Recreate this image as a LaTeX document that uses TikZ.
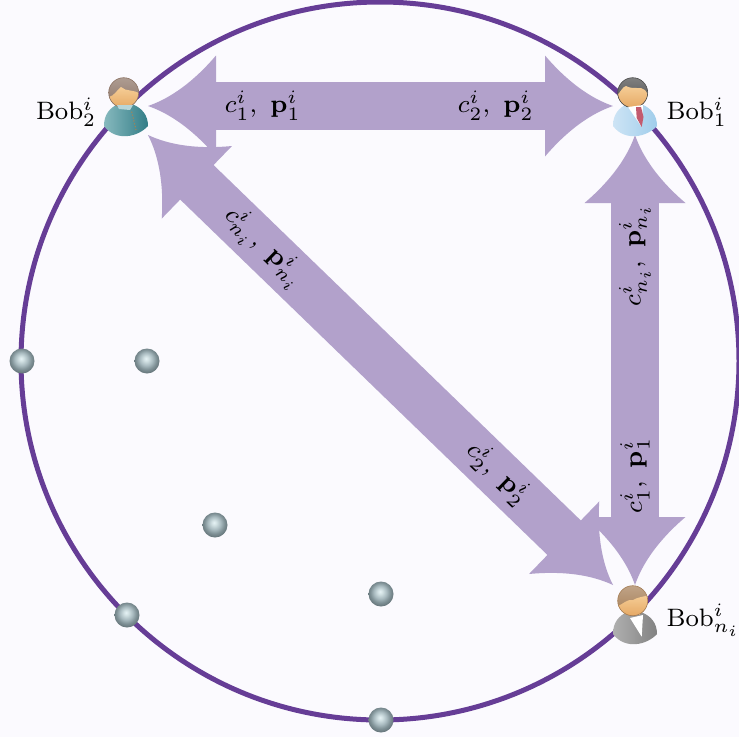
\documentclass[tikz,border=0pt]{standalone}
\usepackage{amsmath,amssymb}
\usepackage{tikz}
\usetikzlibrary{arrows.meta, positioning}

\definecolor{paper}{RGB}{251,250,254}
\definecolor{ringpurple}{RGB}{102,61,150}
\definecolor{flowpurple}{RGB}{178,161,203}
\definecolor{hairdark}{RGB}{75,75,75}
\definecolor{hairbrown}{RGB}{140,115,100}
\definecolor{hairtan}{RGB}{165,125,85}
\definecolor{shirtlight}{RGB}{205,228,245}
\definecolor{shirtblue}{RGB}{160,205,235}
\definecolor{teallight}{RGB}{135,185,190}
\definecolor{tealdark}{RGB}{50,125,135}
\definecolor{coatlight}{RGB}{175,175,175}
\definecolor{coatdark}{RGB}{130,130,130}
\definecolor{skintop}{RGB}{245,205,150}
\definecolor{skinlow}{RGB}{228,165,95}
\definecolor{tiered}{RGB}{195,90,110}

% wide head with hollow flanks
\pgfdeclarearrow{
    name=Flare,
    setup code={
        \pgfarrowssettipend{0pt}
        \pgfarrowssetbackend{-68pt}
        \pgfarrowssetlineend{-60pt}
        \pgfarrowssetvisualbackend{-60pt}
        \pgfarrowshullpoint{0pt}{0pt}
        \pgfarrowshullpoint{-68pt}{50.5pt}
        \pgfarrowshullpoint{-68pt}{-50.5pt}
    },
    drawing code={
        \pgfpathmoveto{\pgfpoint{0pt}{0pt}}
        \pgfpathcurveto{\pgfpoint{-23pt}{7.9pt}}{\pgfpoint{-46pt}{24.7pt}}{\pgfpoint{-68pt}{50.5pt}}
        \pgfpathlineto{\pgfpoint{-68pt}{-50.5pt}}
        \pgfpathcurveto{\pgfpoint{-46pt}{-24.7pt}}{\pgfpoint{-23pt}{-7.9pt}}{\pgfpoint{0pt}{0pt}}
        \pgfpathclose
        \pgfusepathqfill
    }
}

\pgfdeclareradialshading{pearl}{\pgfpoint{-2bp}{5bp}}{
    rgb(0bp)=(.90,.95,.96);
    rgb(5bp)=(.82,.88,.89);
    rgb(13bp)=(.66,.73,.75);
    rgb(20bp)=(.50,.57,.59);
    rgb(29bp)=(.36,.42,.44);
    rgb(50bp)=(.36,.42,.44)
}

\tikzset{
    flow/.style={draw=flowpurple, line width=48pt, {Flare}-{Flare}},
    bob/.style={minimum width=44pt, minimum height=58pt, inner sep=0pt, outer sep=0pt},
    bobname/.style={scale=3.15, inner sep=0pt, font=\footnotesize, yshift=-2pt},
    flowlabel/.style={scale=3.15, sloped, inner sep=0pt, font=\footnotesize},
    pearlball/.style={circle, minimum size=25pt, inner sep=0pt, shading=pearl},
    pics/man/.style n args={4}{code={
        % body
        \shade[left color=#3, right color=#4]
            (-22,20) .. controls (-22,8) and (-16,2) .. (-8,-2) -- (6,-2)
            .. controls (16,2) and (22,9) .. (22,20)
            .. controls (12,31) and (-10,36) .. (-22,20) -- cycle;
        % neck
        \fill[skintop] (-9,-6) rectangle (5,1);
        % head
        \begin{scope}
            \clip (-2.3,-13.3) circle[radius=15];
            \shade[top color=#2!70!white, bottom color=#2] (-18,-29) rectangle (13,2);
            \shade[top color=skintop, bottom color=skinlow] #1;
        \end{scope}
        \draw[#2, line width=0.6pt] (-2.3,-13.3) circle[radius=15];
    }}
}

\begin{document}
\begin{tikzpicture}[x=1pt, y=-1pt]

    \path[use as bounding box, fill=paper] (0,0) rectangle (739,737);

    % the ring
    \draw[ringpurple, line width=5pt] (380,361) circle[radius=359];

    % the three users
    \node[bob] (bobone) at (635,106) {};
    \node[bob] (bobtwo) at (126,106) {};
    \node[bob] (bobn) at (635,614) {};

    \node[bobname, right=9pt of bobone] (nameone) {$\mathrm{Bob}_1^i$};
    \node[bobname, left=7pt of bobtwo] (nametwo) {$\mathrm{Bob}_2^i$};
    \node[bobname, right=9pt of bobn] (namen) {$\mathrm{Bob}_{n_i}^i$};

    % exchanges
    \draw[flow] (bobtwo.east) --
        node[flowlabel, pos=.247] (labtwoone) {$c_1^i,\ \mathbf{p}_1^i$}
        node[flowlabel, pos=.748] (labtwotwo) {$c_2^i,\ \mathbf{p}_2^i$}
        (bobone.west);
    \draw[flow] (bobn.north) --
        node[flowlabel, pos=.243] (labnone) {$c_1^i,\ \mathbf{p}_1^i$}
        node[flowlabel, pos=.733] (labnn) {$c_{n_i}^i,\ \mathbf{p}_{n_i}^i$}
        (bobone.south);
    \draw[flow] (bobtwo.south east) --
        node[flowlabel, pos=.25] (labdiagn) {$c_{n_i}^i,\ \mathbf{p}_{n_i}^i$}
        node[flowlabel, pos=.752] (labdiagtwo) {$c_2^i,\ \mathbf{p}_2^i$}
        (bobn.north west);

    % Bob 1
    \pic at (bobone) {man={(-18,-11) .. controls (-14,-14) and (-13,-19) .. (-9,-20)
        .. controls (-2,-16) and (6,-20) .. (10,-16) .. controls (11,-14) and (13,-12) .. (14,-9)
        -- (14,4) -- (-18,4) -- cycle}{hairdark}{shirtlight}{shirtblue}};
    \fill[white] (628,107) -- (643,105) -- (641.7,127) -- cycle;
    \fill[tiered] (636,107) -- (641,107) -- (643.5,117) -- (641.7,127) -- (636.7,118) -- cycle;

    % Bob 2
    \pic at (bobtwo) {man={(-17,-9) .. controls (-12,-10) and (-9,-16) .. (-5,-19)
        .. controls (0,-14) and (8,-17) .. (14,-12) -- (14,4) -- (-17,4) -- cycle}{hairbrown}{teallight}{tealdark}};
    \fill[teallight!60!white] (117,105) -- (133,105) -- (130,110) -- (119,109) -- cycle;
    \draw[brown, line width=1pt, dotted] (131.7,111.7) -- (136,130);

    % Bob n
    \pic at (bobn) {man={(-17,-8) .. controls (-12,-10) and (-8,-15) .. (-2,-14)
        .. controls (3,-17) and (8,-17) .. (14,-19) -- (14,4) -- (-17,4) -- cycle}{hairtan}{coatlight}{coatdark}};
    \fill[white] (630,618) -- (643,615) -- (641.7,636.7) -- cycle;

    % the other users
    \node[pearlball] (userone) at (22,361) {};
    \node[pearlball] (usertwo) at (147,361) {};
    \node[pearlball] (userthree) at (215,525) {};
    \node[pearlball] (userfour) at (127,615) {};
    \node[pearlball] (userfive) at (381,594) {};
    \node[pearlball] (usersix) at (381,720) {};

\end{tikzpicture}
\end{document}
